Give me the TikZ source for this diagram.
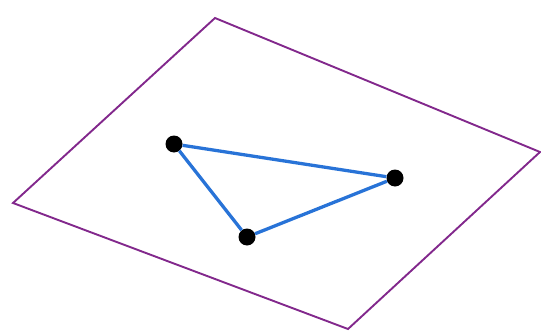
\documentclass[tikz,border=0pt]{standalone}
\begin{document}
\begin{tikzpicture}[x=1pt,y=-1pt,
  plane/.style={draw=planecol,line width=1.9pt,line join=miter},
  edge/.style={draw=edgecol,line width=3.3pt},
  vertex/.style={circle,fill=black,inner sep=0pt,minimum size=17pt}]
\definecolor{planecol}{RGB}{130,40,140}
\definecolor{edgecol}{RGB}{40,115,215}
\useasboundingbox (0,0) rectangle (541,332);
\coordinate (pt) at (215,18);
\coordinate (pr) at (540,152);
\coordinate (pb) at (348,329);
\coordinate (pl) at (13,203);
\draw[plane] (pt) -- (pr) -- (pb) -- (pl) -- cycle;
\node[vertex] (a) at (174,144) {};
\node[vertex] (b) at (395,178) {};
\node[vertex] (c) at (247,237) {};
\draw[edge] (a) -- (b);
\draw[edge] (b) -- (c);
\draw[edge] (c) -- (a);
\end{tikzpicture}
\end{document}
